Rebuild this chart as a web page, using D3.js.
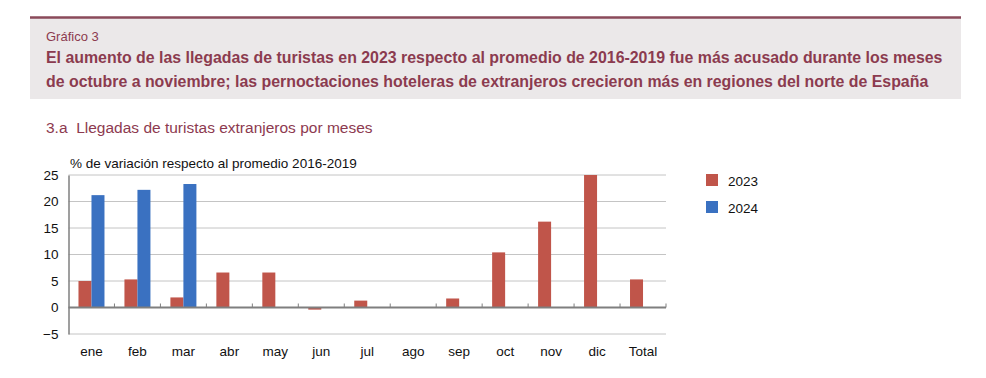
<!DOCTYPE html>
<html>
<head>
<meta charset="utf-8">
<script src="https://cdn.jsdelivr.net/npm/d3@7"></script>
<style>
  body { margin: 0; background: #fff; }
  svg text { font-family: "Liberation Sans", Arial, sans-serif; white-space: pre; }
</style>
</head>
<body>
<svg width="986" height="378"></svg>
<script>
var months = ["ene", "feb", "mar", "abr", "may", "jun", "jul", "ago", "sep", "oct", "nov", "dic", "Total"];
var v2023 = [5.0, 5.3, 1.9, 6.6, 6.6, -0.4, 1.3, 0.0, 1.7, 10.4, 16.2, 25.0, 5.3];
var v2024 = [21.2, 22.2, 23.3, null, null, null, null, null, null, null, null, null, null];
var yTicks = [-5, 0, 5, 10, 15, 20, 25];
var seriesNames = ["2023", "2024"];
var colors = ["#c0554a", "#3a71c1"];

var svg = d3.select("svg");
var maroon = "#8b3b4f";

// cabecera
svg.append("rect")
  .attr("x", 30).attr("y", 17).attr("width", 931).attr("height", 82)
  .attr("fill", "#ebe8e9");
svg.append("line")
  .attr("x1", 30).attr("x2", 961).attr("y1", 17.5).attr("y2", 17.5)
  .attr("stroke", "#8a4a5a").attr("stroke-width", 2.5);
svg.append("text")
  .attr("x", 46).attr("y", 41)
  .attr("font-size", 13).attr("fill", maroon)
  .text("Gráfico 3");
var titleLines = [
  "El aumento de las llegadas de turistas en 2023 respecto al promedio de 2016-2019 fue más acusado durante los meses",
  "de octubre a noviembre; las pernoctaciones hoteleras de extranjeros crecieron más en regiones del norte de España"
];
svg.selectAll(".tl")
  .data(titleLines)
  .enter().append("text")
  .attr("class", "tl")
  .attr("x", 46)
  .attr("y", function(d, i) { return 63 + i * 24; })
  .attr("font-size", 15.9).attr("font-weight", "bold").attr("fill", maroon)
  .text(function(d) { return d; });

svg.append("text")
  .attr("x", 46).attr("y", 133)
  .attr("font-size", 15.5).attr("fill", "#8d3a50")
  .text("3.a  Llegadas de turistas extranjeros por meses");

// grafico
var pLeft = 68.5, pRight = 666, pTop = 175, pBottom = 334;

var x = d3.scaleBand().domain(months).range([pLeft, pRight]);
var x1 = d3.scaleBand().domain(seriesNames).range([x.bandwidth() / 2 - 13, x.bandwidth() / 2 + 13]);
var y = d3.scaleLinear().domain([-5, 25]).range([pBottom, pTop]);

svg.append("text")
  .attr("x", 70).attr("y", 168)
  .attr("font-size", 13.5).attr("fill", "#111")
  .text("% de variación respecto al promedio 2016-2019");

svg.append("g")
  .selectAll("line")
  .data(yTicks)
  .enter().append("line")
  .attr("x1", pLeft).attr("x2", pRight)
  .attr("y1", function(d) { return y(d); })
  .attr("y2", function(d) { return y(d); })
  .attr("stroke", "#c4c4c4").attr("stroke-width", 1);

var yAxis = svg.append("g")
  .attr("transform", "translate(" + pLeft + ",0)")
  .call(d3.axisLeft(y).tickValues(yTicks).tickSize(0).tickPadding(10));
yAxis.select(".domain").attr("stroke", "#7f7f7f").attr("stroke-width", 1.5);
yAxis.selectAll("text").attr("font-size", 13.5).attr("fill", "#111")
  .attr("font-family", "Liberation Sans, Arial, sans-serif");

var series = [v2023, v2024];
series.forEach(function(vals, s) {
  svg.append("g")
    .selectAll("rect")
    .data(months.map(function(m, i) { return { m: m, v: vals[i] }; })
      .filter(function(d) { return d.v !== null; }))
    .enter().append("rect")
    .attr("x", function(d) { return x(d.m) + x1(seriesNames[s]); })
    .attr("width", x1.bandwidth())
    .attr("y", function(d) { return y(Math.max(0, d.v)); })
    .attr("height", function(d) { return Math.abs(y(d.v) - y(0)); })
    .attr("fill", colors[s]);
});

// linea cero con marcas
svg.append("line")
  .attr("x1", pLeft).attr("x2", pRight)
  .attr("y1", y(0)).attr("y2", y(0))
  .attr("stroke", "#7f7f7f").attr("stroke-width", 2);
svg.append("g")
  .selectAll("line")
  .data(months.slice(1).concat(["end"]))
  .enter().append("line")
  .attr("x1", function(d) { return d === "end" ? pRight : x(d); })
  .attr("x2", function(d) { return d === "end" ? pRight : x(d); })
  .attr("y1", y(0) - 4).attr("y2", y(0))
  .attr("stroke", "#7f7f7f").attr("stroke-width", 1);

var xAxis = svg.append("g")
  .attr("transform", "translate(0," + pBottom + ")")
  .call(d3.axisBottom(x).tickSize(0).tickPadding(12));
xAxis.select(".domain").remove();
xAxis.selectAll("text").attr("font-size", 13.5).attr("fill", "#111")
  .attr("font-family", "Liberation Sans, Arial, sans-serif");

// leyenda
var legend = svg.append("g")
  .selectAll("g")
  .data(seriesNames)
  .enter().append("g")
  .attr("transform", function(d, i) { return "translate(706," + (174 + i * 27) + ")"; });
legend.append("rect")
  .attr("width", 12).attr("height", 12)
  .attr("fill", function(d, i) { return colors[i]; });
legend.append("text")
  .attr("x", 22).attr("y", 11.5)
  .attr("font-size", 13.5).attr("fill", "#111")
  .text(function(d) { return d; });
</script>
</body>
</html>
